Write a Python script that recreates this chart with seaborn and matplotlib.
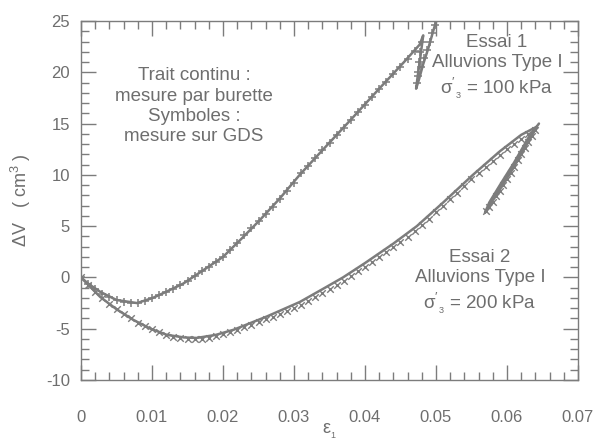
import matplotlib
matplotlib.use("Agg")
import matplotlib.pyplot as plt
from matplotlib.ticker import MultipleLocator, FuncFormatter
import pandas as pd
import seaborn as sns

# Essai 1 (sigma'3 = 100 kPa): axial strain and volume change, burette line
e1_line_x = [0.0, 0.001, 0.0027, 0.005, 0.0079, 0.0101, 0.012, 0.0144, 0.017, 0.020,
             0.0225, 0.0252, 0.028, 0.0308, 0.034, 0.0379, 0.042, 0.0455, 0.0477, 0.0482,
             0.0478, 0.0474, 0.0472, 0.0476, 0.0482, 0.0489, 0.0496, 0.0502, 0.0506]
e1_line_y = [0.0, -0.6, -1.4, -2.2, -2.5, -2.0, -1.4, -0.6, 0.6, 2.0,
             3.7, 5.6, 7.7, 10.0, 12.4, 15.3, 18.4, 21.0, 22.7, 23.6,
             21.5, 19.5, 18.4, 19.3, 20.8, 22.3, 24.0, 25.4, 26.2]

# Essai 1: GDS readings
e1_gds_x = [0.0, 0.001, 0.002, 0.003, 0.004, 0.005, 0.006, 0.007, 0.008, 0.009,
            0.010, 0.011, 0.012, 0.013, 0.014, 0.015, 0.016, 0.017, 0.018, 0.019,
            0.020, 0.021, 0.022, 0.023, 0.024, 0.025, 0.026, 0.027, 0.028, 0.029,
            0.030, 0.031, 0.032, 0.033, 0.034, 0.035, 0.036, 0.037, 0.038, 0.039,
            0.040, 0.041, 0.042, 0.043, 0.044, 0.045, 0.046, 0.047, 0.048,
            0.0478, 0.0476, 0.0474, 0.0473, 0.0475, 0.0479, 0.0483, 0.0487, 0.0491,
            0.0495, 0.0499, 0.0503]
e1_gds_y = [0.0, -0.6, -1.1, -1.6, -1.95, -2.2, -2.35, -2.45, -2.5, -2.3,
            -2.05, -1.75, -1.4, -1.1, -0.75, -0.35, 0.1, 0.6, 1.05, 1.5,
            2.0, 2.7, 3.4, 4.1, 4.8, 5.5, 6.2, 6.9, 7.65, 8.4,
            9.2, 10.15, 10.9, 11.65, 12.4, 13.1, 13.9, 14.6, 15.35, 16.1,
            16.85, 17.6, 18.35, 19.1, 19.8, 20.55, 21.3, 22.05, 23.0,
            22.0, 21.0, 20.0, 19.0, 19.6, 20.5, 21.4, 22.2, 23.0,
            23.8, 24.6, 25.4]

# Essai 2 (sigma'3 = 200 kPa): burette line
e2_line_x = [0.0, 0.0027, 0.005, 0.0074, 0.0098, 0.0121, 0.0145, 0.0163, 0.019, 0.0215,
             0.0262, 0.0308, 0.034, 0.0369, 0.040, 0.044, 0.0473, 0.051, 0.0552, 0.059,
             0.062, 0.0642,
             0.063, 0.061, 0.059, 0.0575, 0.0569,
             0.0575, 0.059, 0.061, 0.063, 0.0645]
e2_line_y = [0.0, -1.9, -3.1, -4.15, -5.0, -5.6, -5.85, -5.9, -5.6, -5.1,
             -3.8, -2.4, -1.15, 0.0, 1.4, 3.3, 5.0, 7.3, 10.0, 12.3,
             13.9, 14.7,
             13.2, 10.8, 8.6, 7.0, 6.3,
             7.3, 9.0, 11.2, 13.6, 15.0]

# Essai 2: GDS readings
e2_gds_x = [0.0, 0.001, 0.002, 0.003, 0.004, 0.005, 0.006, 0.007, 0.008, 0.009,
            0.010, 0.011, 0.012, 0.013, 0.014, 0.015, 0.016, 0.017, 0.018, 0.019,
            0.020, 0.021, 0.022, 0.023, 0.024, 0.025, 0.026, 0.027, 0.028, 0.029,
            0.030, 0.031, 0.032, 0.033, 0.034, 0.035, 0.036, 0.037, 0.038, 0.039,
            0.040, 0.041, 0.042, 0.043, 0.044, 0.045, 0.046, 0.047, 0.048, 0.049,
            0.050, 0.051, 0.052, 0.053, 0.054, 0.055, 0.056, 0.057, 0.058, 0.059,
            0.060, 0.061, 0.062, 0.063, 0.064,
            0.0635, 0.063, 0.0625, 0.062, 0.0615, 0.061, 0.0605, 0.060, 0.0595,
            0.059, 0.0585, 0.058, 0.0575, 0.057]
e2_gds_y = [0.0, -0.75, -1.45, -2.05, -2.6, -3.1, -3.6, -4.0, -4.4, -4.75,
            -5.05, -5.35, -5.6, -5.8, -5.95, -6.0, -6.05, -6.0, -5.9, -5.75,
            -5.55, -5.35, -5.1, -4.85, -4.6, -4.35, -4.1, -3.85, -3.55, -3.25,
            -2.95, -2.65, -2.3, -1.9, -1.5, -1.1, -0.7, -0.3, 0.15, 0.6,
            1.05, 1.5, 2.0, 2.45, 2.95, 3.45, 3.95, 4.5, 5.1, 5.7,
            6.35, 6.95, 7.6, 8.25, 8.9, 9.55, 10.15, 10.75, 11.35, 11.95,
            12.5, 13.0, 13.5, 13.95, 14.35,
            13.8, 13.2, 12.6, 12.0, 11.4, 10.8, 10.2, 9.6, 9.0,
            8.4, 7.9, 7.4, 6.9, 6.5]

x_ticks = [0, 0.01, 0.02, 0.03, 0.04, 0.05, 0.06, 0.07]
y_ticks = [-10, -5, 0, 5, 10, 15, 20, 25]

GREY = "#7c7c7c"
TEXT = "#6e6e6e"

sns.set_theme(style="white")
plt.rcParams.update({
    "font.family": ["Liberation Sans", "DejaVu Sans"],
    "mathtext.fontset": "custom",
    "mathtext.rm": "Liberation Sans",
    "mathtext.it": "Liberation Sans",
    "xtick.bottom": True, "xtick.top": True,
    "ytick.left": True, "ytick.right": True,
    "xtick.direction": "in", "ytick.direction": "in",
    "xtick.major.size": 11, "ytick.major.size": 11,
    "xtick.minor.size": 6, "ytick.minor.size": 6,
    "xtick.major.width": 1.0, "ytick.major.width": 1.0,
    "xtick.minor.width": 1.0, "ytick.minor.width": 1.0,
    "xtick.color": GREY, "ytick.color": GREY,
    "xtick.labelcolor": TEXT, "ytick.labelcolor": TEXT,
    "xtick.labelsize": 12, "ytick.labelsize": 12,
    "xtick.major.pad": 21.5, "ytick.major.pad": 8,
})

fig = plt.figure(figsize=(6.01, 4.46), dpi=100)
ax = fig.add_axes([81 / 601, 1 - 380 / 446, (578 - 81) / 601, (380 - 21) / 446])

e1_line = pd.DataFrame({"eps": e1_line_x, "dv": e1_line_y})
e2_line = pd.DataFrame({"eps": e2_line_x, "dv": e2_line_y})
e1_gds = pd.DataFrame({"eps": e1_gds_x, "dv": e1_gds_y})
e2_gds = pd.DataFrame({"eps": e2_gds_x, "dv": e2_gds_y})

for df in (e1_line, e2_line):
    sns.lineplot(data=df, x="eps", y="dv", sort=False, estimator=None,
                 color=GREY, linewidth=1.8, ax=ax)
sns.scatterplot(data=e1_gds, x="eps", y="dv", marker="+", s=30, color=GREY,
                linewidth=1.1, ax=ax)
sns.scatterplot(data=e2_gds, x="eps", y="dv", marker="x", s=22, color=GREY,
                linewidth=1.0, ax=ax)

ax.set_xlim(0, 0.07)
ax.set_ylim(-10, 25)
ax.set_xticks(x_ticks)
ax.set_yticks(y_ticks)
ax.xaxis.set_minor_locator(MultipleLocator(0.002))
ax.yaxis.set_minor_locator(MultipleLocator(1))
ax.xaxis.set_major_formatter(FuncFormatter(lambda v, p: "0" if v == 0 else f"{v:.2f}"))
ax.yaxis.set_major_formatter(FuncFormatter(lambda v, p: f"{v:.0f}"))
ax.tick_params(which="both", direction="in", bottom=True, left=True, top=True, right=True)
for s in ax.spines.values():
    s.set_color(GREY)
    s.set_linewidth(1.0)

ax.set_xlabel(r"$\mathregular{\varepsilon_{_1}}$", color=TEXT, fontsize=13)
ax.set_ylabel(r"$\mathregular{\Delta V\ \ \ (\ cm^3\ )}$", color=TEXT, fontsize=13)
ax.xaxis.set_label_coords(0.5, -0.118)
ax.yaxis.set_label_coords(-0.097, 0.5)

ax.text(0.0159, 16.7, "Trait continu :\nmesure par burette\nSymboles :\nmesure sur GDS",
        ha="center", va="center", color=TEXT, fontsize=13.5, linespacing=1.25)
ax.text(0.0586, 20.5, "Essai 1\nAlluvions Type I\n" + r"$\mathregular{\sigma'_{_3}}$ = 100 kPa",
        ha="center", va="center", color=TEXT, fontsize=13.5, linespacing=1.25)
ax.text(0.0562, -0.45, "Essai 2\nAlluvions Type I\n" + r"$\mathregular{\sigma'_{_3}}$ = 200 kPa",
        ha="center", va="center", color=TEXT, fontsize=13.5, linespacing=1.25)

fig.savefig("out.png", dpi=100, facecolor="white")
